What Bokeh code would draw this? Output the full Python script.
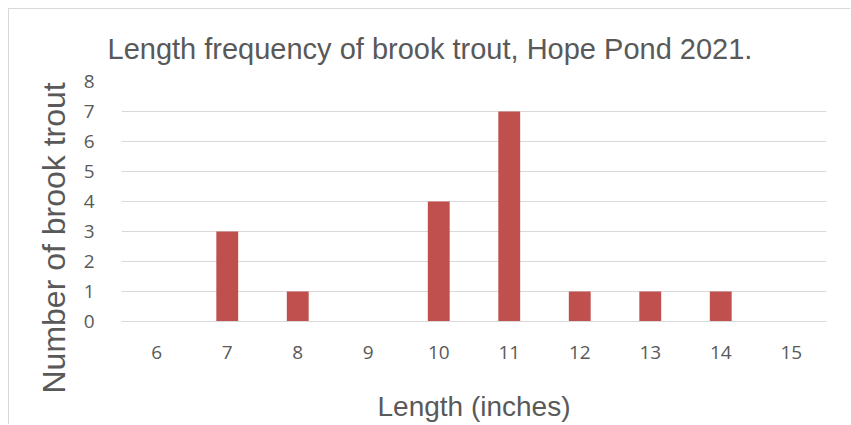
from bokeh.plotting import figure
from bokeh.models import Range1d, FixedTicker, Title, ColumnDataSource
from bokeh.embed import file_html
from bokeh.resources import INLINE

lengths = [6, 7, 8, 9, 10, 11, 12, 13, 14, 15]
counts = [0, 3, 1, 0, 4, 7, 1, 1, 1, 0]
y_ticks = [0, 1, 2, 3, 4, 5, 6, 7, 8]

title_text = "Length frequency of brook trout, Hope Pond 2021."
x_label = "Length (inches)"
y_label = "Number of brook trout"

GREY = "#595959"
GRID = "#d9d9d9"

p = figure(width=842, height=416, output_backend="svg", toolbar_location=None,
           x_range=Range1d(5.5, 15.5), y_range=Range1d(0, 8),
           min_border_left=112, min_border_right=25, min_border_top=72, min_border_bottom=104)
p.styles = {"margin-left": "8px", "margin-top": "8px",
            "border-left": "1px solid #d9d9d9", "border-top": "1px solid #d9d9d9"}
p.outline_line_color = None

src = ColumnDataSource(dict(x=lengths, top=counts))
p.vbar(x="x", top="top", width=0.31, source=src, fill_color="#C0504D", line_color=None)

p.xgrid.grid_line_color = None
p.ygrid.grid_line_color = GRID
p.ygrid.ticker = FixedTicker(ticks=y_ticks)

p.xaxis.ticker = FixedTicker(ticks=lengths)
p.yaxis.ticker = FixedTicker(ticks=y_ticks)
for ax in (p.xaxis, p.yaxis):
    ax.major_tick_line_color = None
    ax.minor_tick_line_color = None
    ax.major_label_text_font = "Open Sans"
    ax.major_label_text_font_size = "19px"
    ax.major_label_text_color = GREY
p.yaxis.axis_line_color = None
p.xaxis.axis_line_color = GRID
p.yaxis.major_label_standoff = 21
p.xaxis.major_label_standoff = 18

p.xaxis.axis_label = x_label
p.xaxis.axis_label_text_font = "Liberation Sans"
p.xaxis.axis_label_text_font_size = "28px"
p.xaxis.axis_label_text_font_style = "normal"
p.xaxis.axis_label_text_color = GREY
p.xaxis.axis_label_standoff = 29

p.add_layout(Title(text=title_text, align="left", offset=-14, standoff=33,
                   text_font="Liberation Sans", text_font_size="29px",
                   text_font_style="normal", text_color=GREY), "above")
p.add_layout(Title(text=y_label, align="left", offset=-72, standoff=17,
                   text_font="Liberation Sans", text_font_size="32px",
                   text_font_style="normal", text_color=GREY), "left")

open("out.html", "w").write(file_html(p, INLINE))
